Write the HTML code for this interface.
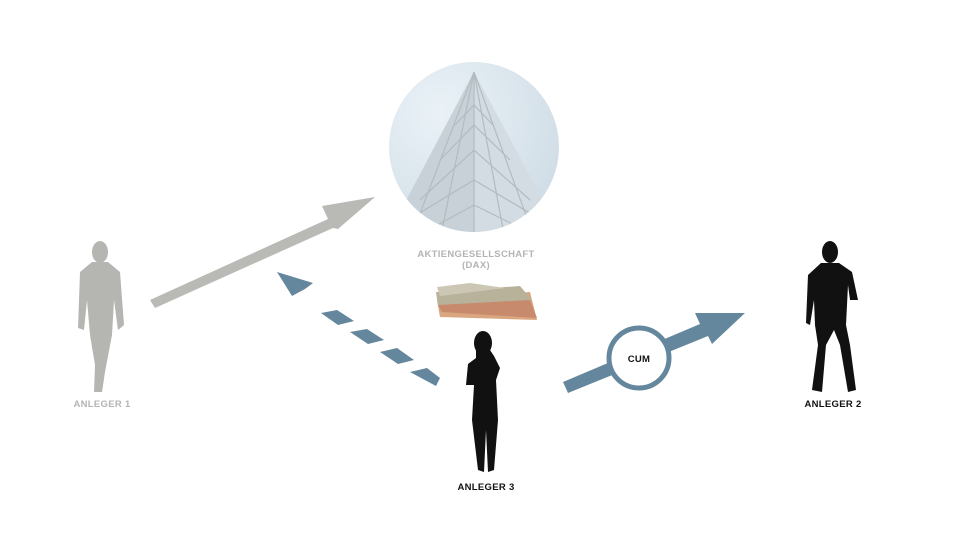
<!DOCTYPE html>
<html><head><meta charset="utf-8"><style>
html,body{margin:0;padding:0;background:#fff}
svg{display:block}
text{font-family:"Liberation Sans",sans-serif;font-weight:bold;font-size:9.5px;letter-spacing:0.3px}
</style></head><body>
<svg width="960" height="540" viewBox="0 0 960 540" xmlns="http://www.w3.org/2000/svg">
<defs>
<radialGradient id="sky" cx="0.3" cy="0.3" r="0.8">
<stop offset="0" stop-color="#eaf2f7"/><stop offset="1" stop-color="#d0dde6"/></radialGradient>
<clipPath id="cc"><circle cx="474" cy="147" r="85"/></clipPath>
</defs>
<circle cx="474" cy="147" r="85" fill="url(#sky)"/>
<g clip-path="url(#cc)">
<polygon points="474,72 380,250 474,250 570,250" fill="#d3dce2"/>
<polygon points="474,72 380,250 474,250" fill="#c8d1d7"/>
<g stroke="#b3bbc0" stroke-width="1.2" fill="none">
<path d="M474,72 L474,240 M474,72 L440,240 M474,72 L410,240 M474,72 L505,240 M474,72 L535,240"/>
<path d="M420,200 L474,150 L530,200 M400,225 L474,180 L550,225 M440,160 L474,125 L510,160 M455,125 L474,105 L493,125 M410,240 L474,205 L545,240"/>
</g>
</g>
<text x="476" y="257" text-anchor="middle" fill="#b4b4b4">AKTIENGESELLSCHAFT</text>
<text x="476" y="268" text-anchor="middle" fill="#b4b4b4">(DAX)</text>
<g>
<polygon points="437,300 530,292 537,320 440,317" fill="#d9a680"/>
<polygon points="436,292 520,286 532,300 438,306" fill="#b8b29a"/>
<polygon points="437,287 470,283 505,288 440,296" fill="#ccc7b5"/>
<polygon points="438,305 530,300 537,318 442,312" fill="#c88a6c"/>
</g>
<polygon points="150,300 328,219 322,206 375,197 338,229 333,228 155,308" fill="#b9bab6"/>
<g fill="#64879d">
<polygon points="277,272 313,283 305,289 292,296"/>
<polygon points="321,313 337,310 354,321 338,325"/>
<polygon points="350,332 367,329 384,340 368,344"/>
<polygon points="380,352 397,348 414,360 398,364"/>
<polygon points="410,372 427,368 440,378 436,386"/>
</g>
<polygon points="563,382 700,324 695,313 745,313 712,344 708,336 568,393" fill="#64879d"/>
<circle cx="639" cy="358" r="30" fill="#fff" stroke="#64879d" stroke-width="5"/>
<text x="639" y="362" text-anchor="middle" fill="#111">CUM</text>
<g fill="#b5b5b2">
<ellipse cx="100" cy="252" rx="8" ry="11"/>
<path d="M92,262 L108,262 L120,272 L124,325 L118,330 L114,300 L112,335 L105,372 L102,392 L94,392 L95,365 L90,335 L87,300 L84,330 L78,328 L80,272 Z"/>
</g>
<text x="102" y="407" text-anchor="middle" fill="#b4b4b4">ANLEGER 1</text>
<g fill="#111">
<ellipse cx="830" cy="252" rx="8" ry="11"/>
<path d="M821,263 L839,263 L852,272 L858,300 L850,300 L848,285 L846,325 L850,345 L856,390 L848,392 L840,345 L834,330 L826,345 L822,392 L812,390 L818,345 L815,325 L814,300 L810,325 L806,323 L808,275 Z"/>
</g>
<text x="833" y="407" text-anchor="middle" fill="#111">ANLEGER 2</text>
<g fill="#111">
<ellipse cx="483" cy="343" rx="9" ry="12"/>
<path d="M476,350 L476,358 L468,364 L466,385 L474,385 L472,420 L478,470 L484,472 L486,430 L488,472 L494,470 L498,420 L496,380 L500,368 L494,356 L490,350 Z"/>
</g>
<text x="486" y="490" text-anchor="middle" fill="#111">ANLEGER 3</text>
</svg>
</body></html>
